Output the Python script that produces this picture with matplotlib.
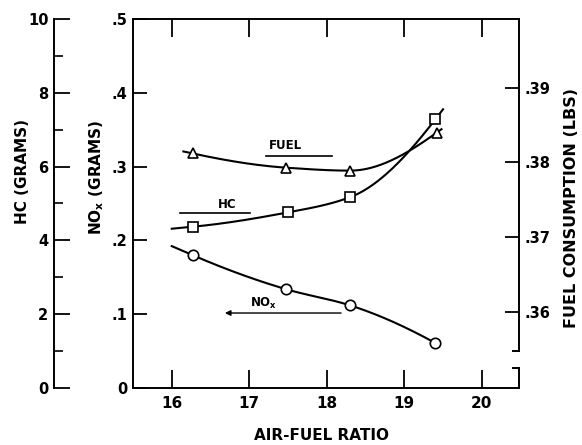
import numpy as np
import matplotlib
matplotlib.use("Agg")
import matplotlib.pyplot as plt

# ---- data ----
nox_afr = [16.27, 17.47, 18.30, 19.40]
nox = [0.180, 0.134, 0.112, 0.061]
hc_afr = [16.27, 17.50, 18.30, 19.40]
hc = [4.37, 4.76, 5.17, 7.28]
fuel_afr = [16.27, 17.47, 18.30, 19.42]
fuel = [0.3812, 0.3793, 0.3789, 0.3840]

x_ticks = [16, 17, 18, 19, 20]
nox_ticks = [0, 0.1, 0.2, 0.3, 0.4, 0.5]
nox_ticklabels = ["0", ".1", ".2", ".3", ".4", ".5"]
hc_ticks = [0, 2, 4, 6, 8, 10]
hc_minor = [1, 3, 5, 7, 9]
fuel_ticks = [0.36, 0.37, 0.38, 0.39]
fuel_ticklabels = [".36", ".37", ".38", ".39"]

# curve extents (as drawn in the reference)
nox_span = (16.0, 19.40)
hc_span = (16.0, 19.50)
fuel_span = (16.15, 19.48)

plt.rcParams["font.family"] = ["DejaVu Sans"]
plt.rcParams["font.weight"] = "bold"
plt.rcParams["mathtext.fontset"] = "dejavusans"


def pchip_slopes(x, y):
    x = np.asarray(x, float); y = np.asarray(y, float)
    h = np.diff(x); d = np.diff(y) / h
    n = len(x); m = np.zeros(n)
    for k in range(1, n - 1):
        if d[k - 1] * d[k] > 0:
            w1 = 2 * h[k] + h[k - 1]; w2 = h[k] + 2 * h[k - 1]
            m[k] = (w1 + w2) / (w1 / d[k - 1] + w2 / d[k])
    def end(h0, h1, d0, d1):
        s = ((2 * h0 + h1) * d0 - h0 * d1) / (h0 + h1)
        if np.sign(s) != np.sign(d0):
            s = 0.0
        elif np.sign(d0) != np.sign(d1) and abs(s) > 3 * abs(d0):
            s = 3 * d0
        return s
    m[0] = end(h[0], h[1], d[0], d[1])
    m[-1] = end(h[-1], h[-2], d[-1], d[-2])
    return m


def smooth(xs, ys, span):
    x = np.asarray(xs, float); y = np.asarray(ys, float)
    m = pchip_slopes(x, y)
    xx = np.linspace(span[0], span[1], 300)
    yy = np.empty_like(xx)
    for i, t in enumerate(xx):
        if t <= x[0]:
            yy[i] = y[0] + m[0] * (t - x[0])
        elif t >= x[-1]:
            yy[i] = y[-1] + m[-1] * (t - x[-1])
        else:
            k = np.searchsorted(x, t) - 1
            hk = x[k + 1] - x[k]; s = (t - x[k]) / hk
            h00 = 2 * s**3 - 3 * s**2 + 1; h10 = s**3 - 2 * s**2 + s
            h01 = -2 * s**3 + 3 * s**2; h11 = s**3 - s**2
            yy[i] = h00 * y[k] + h10 * hk * m[k] + h01 * y[k + 1] + h11 * hk * m[k + 1]
    return xx, yy


W, H = 582, 445
fig = plt.figure(figsize=(W / 100, H / 100), dpi=100)
L, R, B, T = 133, 519, 388, 19
ax = fig.add_axes([L / W, 1 - B / H, (R - L) / W, (B - T) / H])
ax_hc = ax.twinx()
ax_fu = ax.twinx()

LW = 1.5
MS = 7.5
MEW = 1.2

# NOx on main axis
xx, yy = smooth(nox_afr, nox, nox_span)
ax.plot(xx, yy, color="black", lw=LW)
ax.plot(nox_afr, nox, "o", ms=MS, mfc="white", mec="black", mew=MEW)
ax.set_xlim(15.5, 20.48)
ax.set_ylim(0, 0.5)
ax.set_xticks(x_ticks)
ax.set_xticklabels([str(t) for t in x_ticks], fontsize=11, fontweight="bold")
ax.set_yticks(nox_ticks)
ax.set_yticklabels(nox_ticklabels, fontsize=10.5, fontweight="bold")
ax.tick_params(axis="x", which="major", direction="in", length=13, width=1.3,
               top=True, pad=6)
ax.tick_params(axis="y", which="major", direction="in", length=10, width=1.3, pad=4)
for s in ["left", "bottom", "top"]:
    ax.spines[s].set_linewidth(1.4)
ax.spines["right"].set_visible(False)

# HC axis (outer left)
xx, yy = smooth(hc_afr, hc, hc_span)
ax_hc.plot(xx, yy, color="black", lw=LW)
ax_hc.plot(hc_afr, hc, "s", ms=MS, mfc="white", mec="black", mew=MEW)
ax_hc.set_ylim(0, 10)
for s in ["right", "top", "bottom"]:
    ax_hc.spines[s].set_visible(False)
ax_hc.spines["left"].set_visible(True)
ax_hc.spines["left"].set_position(("outward", 79 * 0.72))
ax_hc.spines["left"].set_linewidth(1.4)
ax_hc.yaxis.set_ticks_position("left")
ax_hc.yaxis.set_label_position("left")
ax_hc.set_yticks(hc_ticks)
ax_hc.set_yticks(hc_minor, minor=True)
ax_hc.set_yticklabels([str(t) for t in hc_ticks], fontsize=10.5, fontweight="bold")
ax_hc.tick_params(axis="y", which="major", direction="in", length=11.5, width=1.3, pad=4)
ax_hc.tick_params(axis="y", which="minor", direction="in", length=6.5, width=1.2)

# Fuel axis (right)
xx, yy = smooth(fuel_afr, fuel, fuel_span)
ax_fu.plot(xx, yy, color="black", lw=LW)
ax_fu.plot(fuel_afr, fuel, "^", ms=MS, mfc="white", mec="black", mew=MEW)
ax_fu.set_ylim(0.3498, 0.3992)
for s in ["left", "top", "bottom"]:
    ax_fu.spines[s].set_visible(False)
ax_fu.spines["right"].set_linewidth(1.4)
ax_fu.spines["right"].set_bounds(0.3548, 0.3992)
ax_fu.set_yticks(fuel_ticks)
ax_fu.set_yticklabels(fuel_ticklabels, fontsize=10.5, fontweight="bold")
ax_fu.tick_params(axis="y", direction="in", length=10, width=1.3, pad=4)
# broken axis marks
tr = ax_fu.get_yaxis_transform()
ax_fu.plot([0.985, 1.0], [0.3548, 0.3548], color="black", lw=1.4, transform=tr, clip_on=False)
ax_fu.plot([1.0, 1.0], [0.3498, 0.3525], color="black", lw=1.4, transform=tr, clip_on=False)
ax_fu.plot([0.985, 1.0], [0.3525, 0.3525], color="black", lw=1.4, transform=tr, clip_on=False)

# in-plot labels (positions in NOx axis data units)
ax.text(17.47, 0.329, "FUEL", ha="center", va="center", fontsize=8.5, fontweight="bold")
ax.plot([17.21, 18.07], [0.314, 0.314], color="black", lw=1.2)
ax.text(16.72, 0.248, "HC", ha="center", va="center", fontsize=8.5, fontweight="bold")
ax.plot([16.11, 17.01], [0.237, 0.237], color="black", lw=1.2)
ax.text(17.18, 0.115, r"NO$_\mathbf{x}$", ha="center", va="center", fontsize=8.5,
        fontweight="bold")
ax.annotate("", xy=(16.65, 0.1016), xytext=(18.22, 0.1016),
            arrowprops=dict(arrowstyle="-|>", color="black", lw=1.0,
                            mutation_scale=8))

# axis titles
fig.text(23 / W, 1 - 172 / H, "HC (GRAMS)", rotation=90, ha="center", va="center",
         fontsize=11, fontweight="bold")
fig.text(97 / W, 1 - 177 / H, r"NO$_\mathbf{x}$ (GRAMS)", rotation=90, ha="center",
         va="center", fontsize=11, fontweight="bold")
fig.text(572 / W, 1 - 208 / H, "FUEL CONSUMPTION (LBS)", rotation=90, ha="center",
         va="center", fontsize=11.5, fontweight="bold")
fig.text(321 / W, 1 - 435 / H, "AIR-FUEL RATIO", ha="center", va="center",
         fontsize=11, fontweight="bold")

fig.savefig("out.png", dpi=100, facecolor="white")
